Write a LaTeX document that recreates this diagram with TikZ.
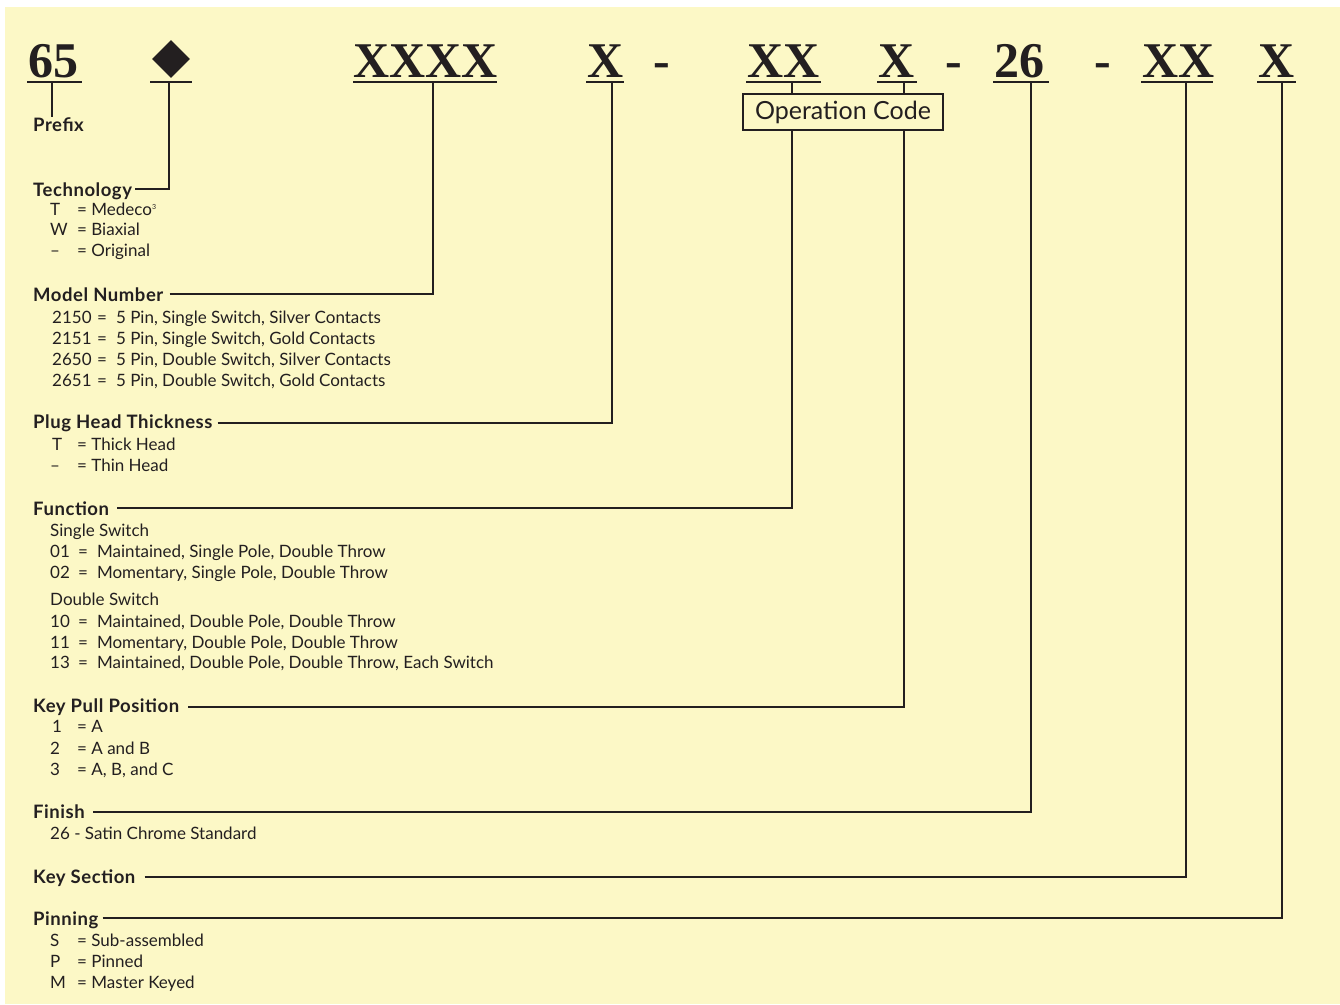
\documentclass[tikz,border=0pt]{standalone}
\usepackage{fontspec}
\setmainfont{Lato}
\newfontfamily\hdrfont{Liberation Serif}
\newfontfamily\lblfont{Lato}[LetterSpace=3]
\usetikzlibrary{shapes.geometric,calc}
\definecolor{bg}{HTML}{FCF8C6}
\definecolor{ink}{HTML}{231F20}
\newcommand\itemrow[6]{%
  \node[itemtxt] (#1a) at (#2,#4) {#5};
  \node[itemtxt] (#1b) at (#3,#4) {#6};}
\begin{document}
\begin{tikzpicture}[x=1pt,y=-1pt,
  code/.style={anchor=base west,inner sep=0pt,text=ink,font=\hdrfont\bfseries\fontsize{50}{50}\selectfont},
  dashmark/.style={anchor=base,inner sep=0pt,text=ink,font=\hdrfont\bfseries\fontsize{50}{50}\selectfont},
  uline/.style={draw=ink,line width=2.2pt},
  conn/.style={draw=ink,line width=2.4pt},
  lbl/.style={anchor=base west,inner sep=0pt,text=ink,font=\lblfont\bfseries\fontsize{18.5}{20}\selectfont},
  itemtxt/.style={anchor=base west,inner sep=0pt,text=ink,font=\fontsize{17}{20}\selectfont},
  opbox/.style={draw=ink,line width=2pt,fill=bg,minimum width=200pt,minimum height=36pt,inner sep=0pt,text=ink,font=\fontsize{25}{25}\selectfont}]
\useasboundingbox (0,0) rectangle (1340,1004);
\fill[white] (0,0) rectangle (1340,1004);
\fill[bg] (5,7) rectangle (1340,1004);

% header codes
\node[code] (c1) at (28,77) {65};
\node[diamond,fill=ink,minimum width=38pt,minimum height=38pt,inner sep=0pt] (c2) at (171,59) {};
\node[code] (c3) at (353,77) {XXXX};
\node[code] (c4) at (587,77) {X};
\node[dashmark] (d1) at (662,77) {-};
\node[code] (c5) at (747,77) {XX};
\node[code] (c6) at (878,77) {X};
\node[dashmark] (d2) at (954,77) {-};
\node[code] (c7) at (994,77) {26};
\node[dashmark] (d3) at (1103,77) {-};
\node[code] (c8) at (1142,77) {XX};
\node[code] (c9) at (1258,77) {X};

% underlines
\draw[uline] (27,82) -- (82,82);
\draw[uline] (150,82) -- (192,82);
\draw[uline] (353,82) -- (497,82);
\draw[uline] (586,82) -- (624,82);
\draw[uline] (746,82) -- (821,82);
\draw[uline] (877,82) -- (917,82);
\draw[uline] (993,82) -- (1049,82);
\draw[uline] (1141,82) -- (1213,82);
\draw[uline] (1257,82) -- (1296,82);

% stem tops
\coordinate (s1) at (52,82);
\coordinate (s2) at (169,82);
\coordinate (s3) at (433,82);
\coordinate (s4) at (612,82);
\coordinate (s5) at (792,82);
\coordinate (s6) at (904,82);
\coordinate (s7) at (1031,82);
\coordinate (s8) at (1186,82);
\coordinate (s9) at (1282,82);

% operation code box
\node[opbox] (op) at (843,112) {Operation Code};

% labels
\node[lbl] (lpre) at (33,131) {Prefix};
\node[lbl] (ltech) at (33,196) {Technology};
\node[lbl] (lmod) at (33,301) {Model Number};
\node[lbl] (lplug) at (33,428) {Plug Head Thickness};
\node[lbl] (lfun) at (33,515) {Function};
\node[lbl] (lkey) at (33,712) {Key Pull Position};
\node[lbl] (lfin) at (33,818) {Finish};
\node[lbl] (lsec) at (33,883) {Key Section};
\node[lbl] (lpin) at (33,925) {Pinning};

% connectors
\draw[conn] (s1) -- (s1 |- lpre.north);
\draw[conn] ([shift={(3pt,7pt)}]ltech.base east) -| (s2);
\draw[conn] ([shift={(6pt,7pt)}]lmod.base east) -| (s3);
\draw[conn] ([shift={(5pt,5pt)}]lplug.base east) -| (s4);
\draw[conn] (s5) -- (s5 |- op.north);
\draw[conn] ([shift={(8pt,7pt)}]lfun.base east) -| (s5 |- op.south);
\draw[conn] (s6) -- (s6 |- op.north);
\draw[conn] ([shift={(9pt,5pt)}]lkey.base east) -| (s6 |- op.south);
\draw[conn] ([shift={(8pt,6pt)}]lfin.base east) -| (s7);
\draw[conn] ([shift={(9pt,6pt)}]lsec.base east) -| (s8);
\draw[conn] ([shift={(4pt,7pt)}]lpin.base east) -| (s9);

% Technology
\itemrow{t1}{50}{77}{215}{T}{= Medeco{\fontsize{7}{7}\selectfont\raisebox{6pt}{3}}}
\itemrow{t2}{50}{77}{235}{W}{= Biaxial}
\itemrow{t3}{50}{77}{256}{\textendash}{= Original}
% Model number
\itemrow{m1}{52}{97}{323}{2150}{=\hspace{9pt}5 Pin, Single Switch, Silver Contacts}
\itemrow{m2}{52}{97}{344}{2151}{=\hspace{9pt}5 Pin, Single Switch, Gold Contacts}
\itemrow{m3}{52}{97}{365}{2650}{=\hspace{9pt}5 Pin, Double Switch, Silver Contacts}
\itemrow{m4}{52}{97}{386}{2651}{=\hspace{9pt}5 Pin, Double Switch, Gold Contacts}
% Plug head
\itemrow{p1}{52}{77}{450}{T}{= Thick Head}
\itemrow{p2}{50}{77}{471}{\textendash}{= Thin Head}
% Function
\node[itemtxt] (fs) at (50,536) {Single Switch};
\itemrow{f1}{50}{78}{557}{01}{=\hspace{9pt}Maintained, Single Pole, Double Throw}
\itemrow{f2}{50}{78}{578}{02}{=\hspace{9pt}Momentary, Single Pole, Double Throw}
\node[itemtxt] (fd) at (50,605) {Double Switch};
\itemrow{f3}{50}{78}{627}{10}{=\hspace{9pt}Maintained, Double Pole, Double Throw}
\itemrow{f4}{50}{78}{648}{11}{=\hspace{9pt}Momentary, Double Pole, Double Throw}
\itemrow{f5}{50}{78}{668}{13}{=\hspace{9pt}Maintained, Double Pole, Double Throw, Each Switch}
% Key pull
\itemrow{k1}{52}{77}{732}{1}{= A}
\itemrow{k2}{50}{77}{754}{2}{= A and B}
\itemrow{k3}{50}{77}{775}{3}{= A, B, and C}
% Finish
\node[itemtxt] (fn1) at (50,839) {26 - Satin Chrome Standard};
% Pinning
\itemrow{n1}{50}{77}{946}{S}{= Sub-assembled}
\itemrow{n2}{50}{77}{967}{P}{= Pinned}
\itemrow{n3}{50}{77}{988}{M}{= Master Keyed}
\end{tikzpicture}
\end{document}
